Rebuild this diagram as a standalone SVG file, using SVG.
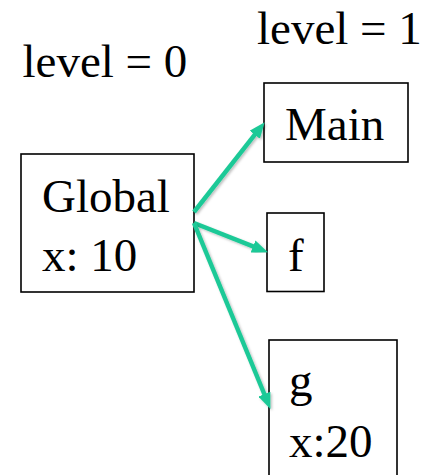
<svg xmlns="http://www.w3.org/2000/svg" width="423" height="475" viewBox="0 0 423 475">
<style>
.box{fill:#fff;stroke:#000;stroke-width:1.6}
.t{font-family:"Liberation Serif","Times New Roman",serif;font-size:47px;fill:#000}
.arr{fill:none;stroke:#1fc997;stroke-width:4.5;marker-end:url(#ah);filter:url(#sh)}
</style>
<defs>
<marker id="ah" markerUnits="userSpaceOnUse" markerWidth="16" markerHeight="13" refX="2" refY="6.5" orient="auto"><path d="M0,0 L16,6.5 L0,13 z" fill="#1fc997"/></marker>
<filter id="sh" x="-20%" y="-20%" width="140%" height="140%"><feDropShadow dx="1.5" dy="1.5" stdDeviation="1.2" flood-color="#000" flood-opacity="0.25"/></filter>
</defs>
<text class="t" x="22.5" y="77">level = 0</text>
<text class="t" x="257" y="44">level = 1</text>
<g id="global"><rect class="box" x="21" y="154" width="173" height="138"/><text class="t" x="42" y="212">Global</text><text class="t" x="42" y="271">x: 10</text></g>
<g id="main"><rect class="box" x="264" y="83" width="144" height="79"/><text class="t" x="285" y="140">Main</text></g>
<g id="f"><rect class="box" x="267" y="213" width="57" height="78.5"/><text class="t" x="288" y="271">f</text></g>
<g id="g"><rect class="box" x="269" y="340" width="128" height="140"/><text class="t" x="289" y="396">g</text><text class="t" x="289" y="457">x:20</text></g>
<g id="connectors">
<path class="arr" d="M194,212 L256,133.2"/>
<path class="arr" d="M194,223 L254.9,247.2"/>
<path class="arr" d="M194,223 L265.1,396"/>
</g>
</svg>
